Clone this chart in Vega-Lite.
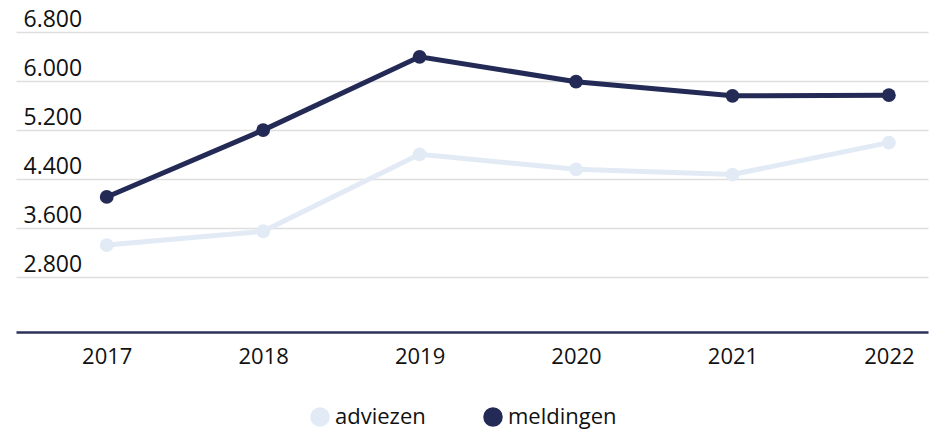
{
  "$schema": "https://vega.github.io/schema/vega-lite/v6.json",
  "width": 912,
  "height": 332,
  "autosize": {"type": "none"},
  "padding": {"left": 16, "top": 0, "right": 6, "bottom": 101},
  "config": {"view": {"stroke": null}, "font": "Open Sans"},
  "data": {
    "values": [
      {"jaar": 2017, "reeks": "adviezen", "aantal": 3320},
      {"jaar": 2018, "reeks": "adviezen", "aantal": 3545},
      {"jaar": 2019, "reeks": "adviezen", "aantal": 4800},
      {"jaar": 2020, "reeks": "adviezen", "aantal": 4555},
      {"jaar": 2021, "reeks": "adviezen", "aantal": 4470},
      {"jaar": 2022, "reeks": "adviezen", "aantal": 4990},
      {"jaar": 2017, "reeks": "meldingen", "aantal": 4105},
      {"jaar": 2018, "reeks": "meldingen", "aantal": 5195},
      {"jaar": 2019, "reeks": "meldingen", "aantal": 6390},
      {"jaar": 2020, "reeks": "meldingen", "aantal": 5985},
      {"jaar": 2021, "reeks": "meldingen", "aantal": 5755},
      {"jaar": 2022, "reeks": "meldingen", "aantal": 5765}
    ]
  },
  "encoding": {
    "x": {
      "field": "jaar",
      "type": "quantitative",
      "title": null,
      "scale": {"domain": [2016.42, 2022.25], "nice": false, "zero": false},
      "axis": {
        "values": [2017, 2018, 2019, 2020, 2021, 2022],
        "format": "d",
        "grid": false,
        "ticks": false,
        "domainColor": "#2b3158",
        "domainWidth": 2.5,
        "labelFontSize": 22,
        "labelColor": "#111111",
        "labelPadding": 14,
        "labelFlush": false,
        "labelBound": false
      }
    },
    "y": {
      "field": "aantal",
      "type": "quantitative",
      "title": null,
      "scale": {"domain": [1902, 7317], "nice": false, "zero": false},
      "axis": {
        "values": [2800, 3600, 4400, 5200, 6000, 6800],
        "labelExpr": "replace(format(datum.value, ','), ',', '.')",
        "domain": false,
        "ticks": false,
        "grid": true,
        "gridColor": "#dedede",
        "gridWidth": 1.5,
        "labelAlign": "left",
        "labelBaseline": "alphabetic",
        "labelOffset": -5,
        "labelPadding": -7,
        "labelFontSize": 23,
        "labelColor": "#111111"
      }
    },
    "color": {
      "field": "reeks",
      "type": "nominal",
      "scale": {"domain": ["adviezen", "meldingen"], "range": ["#e2ebf5", "#232a55"]},
      "legend": {
        "title": null,
        "orient": "none",
        "direction": "horizontal",
        "legendX": 293,
        "legendY": 406,
        "symbolType": "circle",
        "symbolSize": 380,
        "symbolStrokeWidth": 0,
        "symbolOpacity": 1,
        "labelFontSize": 22,
        "labelColor": "#111111",
        "labelOffset": 4,
        "columnPadding": 56
      }
    }
  },
  "layer": [
    {"mark": {"type": "line", "strokeWidth": 5}},
    {"mark": {"type": "point", "filled": true, "size": 190, "opacity": 1}}
  ]
}
